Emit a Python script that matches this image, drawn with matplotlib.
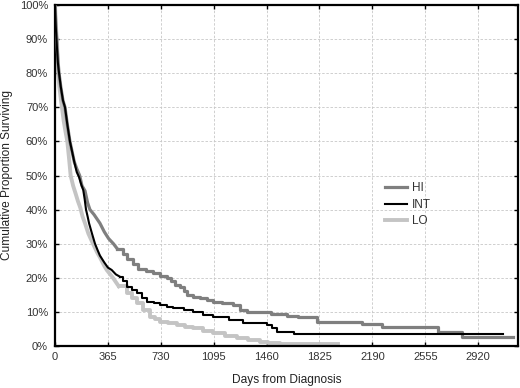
import matplotlib
matplotlib.use("Agg")
import matplotlib.pyplot as plt
from matplotlib.ticker import FixedLocator, FuncFormatter

plt.rcParams['font.family'] = ['Liberation Sans', 'DejaVu Sans']

# Kaplan-Meier style survival curves (days, % surviving)
hi_days = [0, 5, 10, 20, 28, 40, 55, 69, 85, 103, 118, 133, 150, 170, 186, 207, 225, 241, 270, 310,
           340, 370, 403, 430, 470, 500, 540, 575, 630, 677, 725, 772, 800, 830, 863, 890, 911, 950,
           1000, 1050, 1091, 1150, 1229, 1280, 1325, 1490, 1600, 1680, 1806, 2116, 2254, 2645, 2806, 3163]
hi_surv = [100, 95, 91, 84, 80, 76, 72, 70, 65, 60, 57, 54, 52, 50, 47, 45.5, 42, 40, 38.5, 36,
           33.5, 31.5, 30, 28.5, 27, 25.5, 24, 22.5, 22, 21.5, 20.5, 19.8, 19, 18, 17.4, 16, 15, 14.5,
           14, 13.5, 13, 12.5, 12, 10.6, 10, 9.5, 8.9, 8.6, 7.1, 6.4, 5.7, 4.0, 2.7, 2.7]

int_days = [0, 5, 10, 20, 28, 40, 55, 69, 85, 103, 118, 133, 150, 166, 180, 195, 205, 214, 225, 235,
            255, 276, 295, 310, 340, 365, 391, 420, 449, 470, 495, 530, 564, 600, 633, 680, 725,
            770, 817, 890, 955, 1020, 1093, 1200, 1300, 1461, 1500, 1530, 1650, 3093]
int_surv = [100, 94, 90, 83, 80, 76, 72, 70, 65, 60, 57, 54, 51, 49.5, 47.5, 45.7, 43, 40, 38, 36,
            33, 30, 28, 26.5, 24.5, 23, 22.3, 21, 20.3, 19, 17.4, 16.5, 15.4, 14, 13, 12.5, 12,
            11.5, 11, 10.5, 10, 9.2, 8.4, 7.5, 6.7, 6.2, 5.2, 4.0, 3.5, 3.5]

lo_days = [0, 6, 14, 20, 30, 40, 48, 60, 72, 85, 97, 108, 125, 140, 158, 175, 190, 207, 230, 262,
           290, 310, 340, 357, 400, 440, 495, 530, 564, 610, 656, 690, 725, 780, 839, 900, 955,
           1020, 1093, 1170, 1254, 1330, 1415, 1470, 1550, 1950]
lo_surv = [100, 94, 89, 81, 76, 72.5, 70, 66, 63, 60, 55, 50, 47, 45, 42.5, 40.5, 38, 36, 33, 30,
           27.5, 26, 23.5, 22.3, 20, 17.5, 15.4, 14, 12.5, 10.5, 8.6, 7.8, 7.1, 6.6, 6.2, 5.7, 5.2,
           4.5, 3.7, 3.0, 2.2, 1.8, 1.3, 0.8, 0.5, 0.5]

x_ticks = [0, 365, 730, 1095, 1460, 1825, 2190, 2555, 2920]
y_ticks = [0, 10, 20, 30, 40, 50, 60, 70, 80, 90, 100]

SMOOTH_UNTIL = 450  # dense early events drawn as a continuous line


def draw(ax, days, surv, **kw):
    k = max(i for i, d in enumerate(days) if d <= SMOOTH_UNTIL)
    line, = ax.plot(days[:k + 1], surv[:k + 1], solid_joinstyle='round', **kw)
    kw.pop('label', None)
    ax.step(days[k:], surv[k:], where='post', **kw)
    return line


fig = plt.figure(figsize=(5.2, 3.88), dpi=100)
ax = fig.add_axes([55/520, 1 - 346/388, 463/520, 341/388])

draw(ax, hi_days, hi_surv, color='#7f7f7f', lw=2.3, label='HI', zorder=3)
draw(ax, int_days, int_surv, color='black', lw=1.5, label='INT', zorder=4)
draw(ax, lo_days, lo_surv, color='#c4c4c4', lw=2.8, label='LO', zorder=2)

ax.set_xlim(0, 3195)
ax.set_ylim(0, 100)
ax.xaxis.set_major_locator(FixedLocator(x_ticks))
ax.yaxis.set_major_locator(FixedLocator(y_ticks))
ax.yaxis.set_major_formatter(FuncFormatter(lambda v, p: f"{int(v)}%"))
ax.grid(True, color='#c8c8c8', linestyle=(0, (3, 2)), linewidth=0.6)
ax.set_axisbelow(True)

for s in ax.spines.values():
    s.set_linewidth(1.6)
    s.set_color('black')

ax.tick_params(direction='in', top=True, right=True, length=3, width=1,
               labelsize=8, labelcolor='#333333', pad=4)
ax.tick_params(axis='y', pad=5)

ax.set_xlabel('Days from Diagnosis', fontsize=8.6, color='#222222', labelpad=9)
ax.set_ylabel('Cumulative Proportion Surviving', fontsize=8.6, color='#222222', labelpad=5)

leg = ax.legend(loc='upper left', bbox_to_anchor=(0.702, 0.495), frameon=False, fontsize=8.5,
                handlelength=1.85, handletextpad=0.42, labelspacing=0.4, borderaxespad=0)
for t in leg.get_texts():
    t.set_color('#333333')

fig.savefig('out.png', dpi=100)
